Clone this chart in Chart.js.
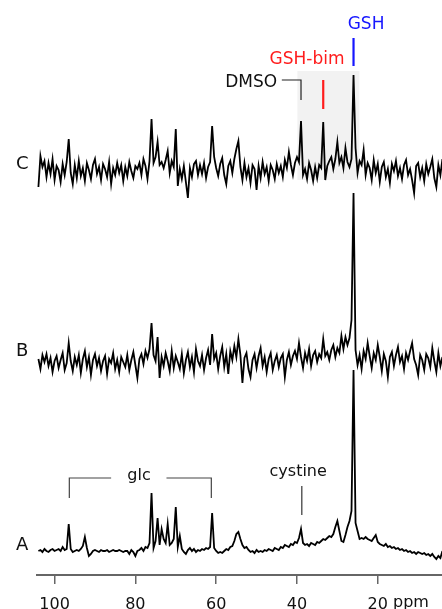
<!DOCTYPE html>
<html>
<head>
<meta charset="utf-8">
<script src="https://cdn.jsdelivr.net/npm/chart.js@4/dist/chart.umd.min.js"></script>
<style>
  html, body { margin: 0; padding: 0; background: #fff; }
  #wrap { width: 442px; height: 609px; }
</style>
</head>
<body>
<div id="wrap"><canvas id="nmr" width="442" height="609"></canvas></div>
<script>
// chemical shift grid, 104 -> 4 ppm every 0.5 ppm
const PPM_START = 104;
const PPM_STEP = 0.5;
const PPM = Array.from({ length: 201 }, (_, i) => PPM_START - PPM_STEP * i);

// intensities, relative to each trace baseline
const SERIES_A = [
  0, 1, -1, 2, 0, -1, 1, 2, 0, 1,
  2, 0, 4, 1, 2, 27, 2, -1, 0, 1,
  0, 2, 5, 14, 3, -5, -3, 0, 1, 0,
  -1, 1, 0, 0, 1, -1, 0, 1, 0, 0,
  1, 0, -1, 0, 0, -3, 1, -1, -5, 0,
  1, 3, 0, 4, 3, 8, 58, 3, 10, 33,
  6, 22, 12, 8, 27, 6, 8, 12, 44, 4,
  15, 2, -1, -3, 1, 3, 0, 2, -1, 1,
  0, 2, 1, 3, 2, 4, 38, 3, 0, -2,
  -1, -2, 0, 2, 1, 4, 5, 10, 17, 19,
  12, 6, 3, 4, 1, -1, 0, -2, 1, -1,
  0, -1, 1, 0, 2, 1, 0, 3, 2, 1,
  4, 3, 6, 5, 4, 7, 6, 9, 8, 13,
  22, 8, 6, 7, 5, 8, 7, 6, 9, 8,
  10, 12, 11, 13, 15, 14, 17, 24, 30, 20,
  10, 9, 16, 24, 30, 40, 181, 28, 20, 12,
  13, 12, 14, 12, 11, 10, 13, 16, 9, 7,
  6, 5, 7, 4, 5, 3, 4, 2, 3, 1,
  2, 0, 1, -1, 0, -2, -1, -3, -1, -2,
  -3, -2, -4, -3, -5, -3, -6, -8, -5, -7, 0
];

const SERIES_B = [
  4, -6, 8, 1, 9, -3, 5, -9, 2, 7,
  -5, 3, 10, -7, 0, 20, 2, -8, 6, -2,
  8, -10, 4, 12, -4, 6, -12, 3, 9, -3,
  5, -8, 2, 7, -11, 4, 0, 10, -6, 3,
  -9, 6, 1, -4, 8, -7, 3, 11, -2, -15,
  4, 9, -1, 12, 5, 14, 40, 8, 2, 26,
  -15, 6, -3, 10, 2, -8, 12, -5, 7, 1,
  -6, 9, -10, 3, 11, -4, 6, -9, 14, 2,
  -3, 8, -7, 5, 13, -2, 29, 4, 10, -6,
  7, 16, -4, 9, -11, 12, 3, 17, 6, 24,
  8, -20, 5, 10, -6, -14, 3, 9, -5, 7,
  15, -3, 6, -9, 4, 10, -7, 2, 8, -4,
  5, 9, -14, 3, 11, -2, 7, 12, 4, 20,
  6, -5, 10, 2, 14, -3, 8, 12, 1, 9,
  5, 24, 7, 11, 3, 13, 18, 6, 15, 10,
  27, 14, 26, 18, 25, 43, 170, 13, -2, 8,
  -6, 12, 4, 20, 7, -5, 10, 3, 18, 6,
  -8, 9, 2, -14, 6, 11, -3, 8, 16, 1,
  7, -6, 10, 3, 12, 20, 4, -2, -12, 8,
  3, -7, 9, 5, -4, 15, 2, -9, 10, -3, 6
];

const SERIES_C = [
  -16, 15, 4, 10, -6, 8, -3, 12, -9, 5,
  1, -11, 7, -4, 9, 32, -2, -13, 6, -7,
  10, -5, 3, -10, 8, 1, -8, 6, 12, -3,
  4, -9, 7, 2, -6, 9, -13, 3, -4, 8,
  -2, 6, -10, 4, -5, 9, 0, -7, 5, 2,
  8, -4, 12, 5, -8, 10, 52, 8, 14, 29,
  6, 9, 3, 11, 20, -2, 10, 4, 42, -15,
  2, -8, 5, -11, -27, 3, -6, 7, 10, -4,
  6, -3, 8, -7, 4, 9, 45, 14, 3, -5,
  7, 13, -4, -13, 5, 10, -2, 12, 22, 30,
  4, -9, 8, -6, 3, -12, 6, 2, -19, 5,
  -7, 9, -3, 4, -10, 6, 1, -8, 7, -2,
  5, -6, 11, 3, 19, 6, -4, 8, 14, 9,
  50, -4, 2, -8, 8, 1, -10, 4, -7, 6,
  3, 49, -9, 5, 10, 14, 2, 12, 29, 8,
  14, 3, 23, 9, 4, 12, 96, 23, -2, 10,
  6, 21, -4, 8, 3, -9, 11, -2, 7, -11,
  4, 9, -6, 2, -12, 7, 0, 10, -5, 3,
  -8, 6, 11, -4, 2, -9, -22, 5, 8, -6,
  3, -10, 7, -3, 4, 12, -7, -16, 6, -4, 12
];

const TRACE_NAMES = ['A', 'B', 'C'];
const TICKS = [100, 80, 60, 40, 20];

// stacking offsets of the three traces (y units)
const OFFSETS = { A: 24, B: 212, C: 404 };

const FONT = 'DejaVu Sans';

// annotation texts and marker lines, in (ppm, y) units
const TEXTS = [
  { text: 'C', ppm: 108, y: 411, color: '#111', size: 18 },
  { text: 'B', ppm: 108, y: 224, color: '#111', size: 18 },
  { text: 'A', ppm: 108, y: 30, color: '#111', size: 18 },
  { text: 'GSH', ppm: 22.9, y: 550, color: '#1616ff', size: 17 },
  { text: 'GSH-bim', ppm: 37.5, y: 515, color: '#ff1c1c', size: 17 },
  { text: 'DMSO', ppm: 44.9, y: 492, color: '#111', size: 17, align: 'right' },
  { text: 'glc', ppm: 79.1, y: 99, color: '#111', size: 16 },
  { text: 'cystine', ppm: 39.7, y: 103, color: '#111', size: 16 }
];

const MARKS = [
  { pts: [[26, 537], [26, 509]], color: '#1616ff', width: 2.2 },
  { pts: [[33.5, 495], [33.5, 466]], color: '#ff1c1c', width: 2.2 },
  { pts: [[43.75, 495], [39, 495], [39, 475]], color: '#222', width: 1.2 },
  { pts: [[96.35, 77], [96.35, 97], [86, 97]], color: '#444', width: 1.2 },
  { pts: [[72.3, 97], [61.2, 97], [61.2, 77]], color: '#444', width: 1.2 },
  { pts: [[38.8, 89], [38.8, 60]], color: '#333', width: 1.2 }
];

const BOX = { from: 39.9, to: 24.55, bottom: 395, top: 504, color: '#f2f2f2' };

const TICK_LEN = 9;
const TICK_PAD = 11;

const traces = { A: SERIES_A, B: SERIES_B, C: SERIES_C };

const annotate = {
  id: 'annotate',
  beforeDatasetsDraw(chart) {
    const { ctx, scales: { x, y } } = chart;
    const l = x.getPixelForValue(BOX.from), r = x.getPixelForValue(BOX.to);
    const t = y.getPixelForValue(BOX.top), b = y.getPixelForValue(BOX.bottom);
    ctx.save();
    ctx.fillStyle = BOX.color;
    ctx.fillRect(l, t, r - l, b - t);
    ctx.restore();
  },
  afterDraw(chart) {
    const { ctx, scales: { x, y } } = chart;
    ctx.save();
    MARKS.forEach(m => {
      ctx.beginPath();
      m.pts.forEach(([p, v], i) => {
        const px = x.getPixelForValue(p), py = y.getPixelForValue(v);
        if (i === 0) ctx.moveTo(px, py); else ctx.lineTo(px, py);
      });
      ctx.strokeStyle = m.color;
      ctx.lineWidth = m.width;
      ctx.stroke();
    });
    ctx.textBaseline = 'middle';
    TEXTS.forEach(t => {
      ctx.font = t.size + 'px "' + FONT + '"';
      ctx.fillStyle = t.color;
      ctx.textAlign = t.align || 'center';
      ctx.fillText(t.text, x.getPixelForValue(t.ppm), y.getPixelForValue(t.y));
    });
    // unit after the last tick label
    ctx.font = '16px "' + FONT + '"';
    ctx.fillStyle = '#111';
    ctx.textAlign = 'left';
    ctx.textBaseline = 'top';
    const w = ctx.measureText('20').width;
    ctx.fillText(' ppm', x.getPixelForValue(20) + w / 2, x.top + TICK_LEN + TICK_PAD);
    ctx.restore();
  }
};

new Chart(document.getElementById('nmr'), {
  type: 'line',
  data: {
    datasets: TRACE_NAMES.map(name => ({
      label: name,
      data: traces[name].map((v, i) => ({ x: PPM[i], y: v + OFFSETS[name] })),
      borderColor: '#000',
      borderWidth: 1.8,
      pointRadius: 0,
      tension: 0,
      fill: false
    }))
  },
  options: {
    responsive: false,
    animation: false,
    layout: { padding: { left: 37, right: 0, top: 0, bottom: 0 } },
    plugins: { legend: { display: false }, tooltip: { enabled: false } },
    scales: {
      x: {
        type: 'linear',
        reverse: true,
        min: 4.1,
        max: 104.35,
        afterBuildTicks: s => { s.ticks = TICKS.map(v => ({ value: v })); },
        afterFit: s => { s.height = 34; },
        border: { display: true, color: '#666', width: 2 },
        grid: { drawOnChartArea: false, drawTicks: true, tickLength: TICK_LEN, color: '#666', lineWidth: 1.5 },
        ticks: {
          padding: TICK_PAD,
          maxRotation: 0,
          color: '#111',
          font: { family: FONT, size: 16 },
          callback: v => String(v)
        }
      },
      y: { display: false, min: 0, max: 575 }
    }
  },
  plugins: [annotate]
});
</script>
</body>
</html>
